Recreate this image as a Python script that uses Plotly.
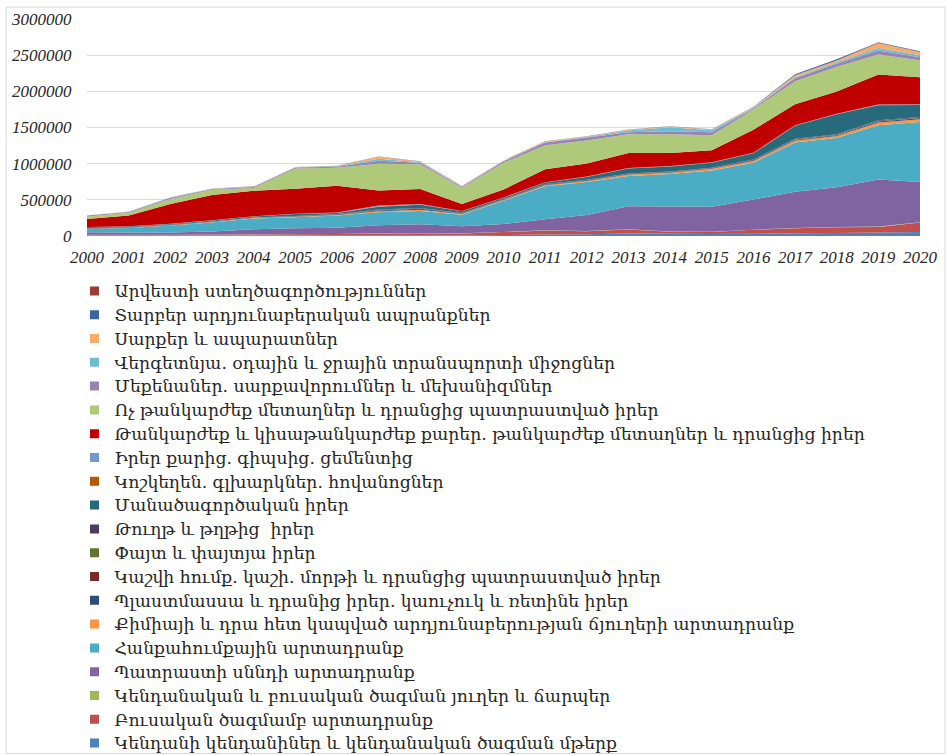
import plotly.graph_objects as go

years = list(range(2000, 2021))

# series names, bottom of the stack first
names = [
    "Կենդանի կենդանիներ և կենդանական ծագման մթերք",
    "Բուսական ծագմամբ արտադրանք",
    "Կենդանական և բուսական ծագման յուղեր և ճարպեր",
    "Պատրաստի սննդի արտադրանք",
    "Հանքահումքային արտադրանք",
    "Քիմիայի և դրա հետ կապված արդյունաբերության ճյուղերի արտադրանք",
    "Պլաստմասսա և դրանից իրեր. կաուչուկ և ռետինե իրեր",
    "Կաշվի հումք. կաշի. մորթի և դրանցից պատրաստված իրեր",
    "Փայտ և փայտյա իրեր",
    "Թուղթ և թղթից  իրեր",
    "Մանածագործական իրեր",
    "Կոշկեղեն. գլխարկներ. հովանոցներ",
    "Իրեր քարից. գիպսից. ցեմենտից",
    "Թանկարժեք և կիսաթանկարժեք քարեր. թանկարժեք մետաղներ և դրանցից իրեր",
    "Ոչ թանկարժեք մետաղներ և դրանցից պատրաստված իրեր",
    "Մեքենաներ. սարքավորումներ և մեխանիզմներ",
    "Վերգետնյա. օդային և ջրային տրանսպորտի միջոցներ",
    "Սարքեր և ապարատներ",
    "Տարբեր արդյունաբերական ապրանքներ",
    "Արվեստի ստեղծագործություններ",
]

colors = [
    "#4F81BD", "#C0504D", "#9BBB59", "#8064A2", "#4BACC6", "#F79646",
    "#2C4D75", "#772C2A", "#5F7530", "#4D3B62", "#276A7C", "#B65708",
    "#729ACA", "#C00000", "#AFC97A", "#9983B5", "#6FBDD1", "#F9AB6B",
    "#3A65A0", "#9E3B39",
]

live_animals = [6000, 6000, 6000, 6000, 7000, 8000, 9000, 10000, 10000, 8000, 14000,
                22000, 25000, 35000, 30000, 28000, 30000, 38000, 40000, 50000, 55000]
vegetable = [10000, 10000, 12000, 14000, 15000, 16000, 18000, 25000, 28000, 28000, 40000,
             55000, 42000, 55000, 30000, 28000, 55000, 70000, 80000, 75000, 130000]
fats = [1000, 1000, 1000, 1000, 1000, 1000, 2000, 2000, 2000, 2000, 2000,
        3000, 3000, 3000, 3000, 3000, 3000, 4000, 4000, 5000, 5000]
food = [35000, 30000, 30000, 42000, 69000, 83000, 85000, 110000, 124000, 97000, 110000,
        152000, 220000, 318000, 345000, 345000, 415000, 500000, 550000, 650000, 555000]
mineral = [50000, 65000, 95000, 125000, 150000, 152000, 170000, 180000, 180000, 160000, 320000,
           456000, 456000, 420000, 450000, 500000, 510000, 680000, 680000, 750000, 830000]
chemicals = [3000, 3000, 4000, 5000, 6000, 7000, 8000, 15000, 20000, 10000, 12000,
             15000, 15000, 18000, 18000, 25000, 25000, 28000, 28000, 40000, 40000]
plastics = [2000, 2000, 2000, 3000, 3000, 4000, 5000, 12000, 12000, 5000, 5000,
            6000, 6000, 7000, 7000, 7000, 8000, 9000, 10000, 12000, 12000]
leather = [1000, 1000, 1000, 1000, 2000, 2000, 2000, 3000, 3000, 2000, 2000,
           3000, 3000, 3000, 3000, 3000, 4000, 5000, 5000, 6000, 6000]
wood = [1000, 1000, 1000, 1000, 1000, 1000, 1000, 2000, 2000, 1000, 1000,
        1000, 1000, 1000, 1000, 1000, 2000, 2000, 2000, 3000, 3000]
paper = [2000, 2000, 2000, 3000, 3000, 4000, 4000, 6000, 6000, 4000, 4000,
         5000, 5000, 5000, 5000, 5000, 6000, 7000, 7000, 8000, 8000]
textiles = [12000, 12000, 12000, 14000, 14000, 25000, 15000, 40000, 45000, 25000, 18000,
            20000, 40000, 69000, 69000, 69000, 85000, 180000, 276000, 207000, 166000]
footwear = [1000, 1000, 1000, 1000, 1000, 1000, 1000, 2000, 2000, 1000, 1000,
            2000, 2000, 2000, 2000, 2000, 3000, 4000, 4000, 5000, 5000]
stone = [1000, 1000, 1000, 2000, 2000, 3000, 4000, 15000, 10000, 3000, 3000,
         3000, 3000, 4000, 4000, 4000, 4000, 5000, 5000, 6000, 6000]
precious = [110000, 150000, 275000, 350000, 350000, 345000, 370000, 207000, 207000, 97000, 110000,
            180000, 180000, 207000, 180000, 166000, 320000, 290000, 305000, 415000, 373000]
base_metals = [35000, 35000, 70000, 70000, 41000, 280000, 250000, 370000, 340000, 220000, 370000,
               330000, 320000, 260000, 260000, 207000, 280000, 318000, 345000, 276000, 235000]
machinery = [12000, 12000, 12000, 12000, 14000, 14000, 15000, 40000, 20000, 14000, 20000,
             41000, 41000, 28000, 41000, 41000, 14000, 41000, 41000, 55000, 41000]
transport = [3000, 3000, 3000, 3000, 3000, 4000, 5000, 30000, 10000, 5000, 5000,
             6000, 6000, 25000, 55000, 28000, 10000, 15000, 20000, 35000, 30000]
instruments = [2000, 2000, 2000, 3000, 3000, 4000, 5000, 25000, 8000, 6000, 6000,
               6000, 8000, 10000, 10000, 12000, 8000, 25000, 25000, 70000, 45000]
misc_goods = [1000, 1000, 1000, 1000, 1000, 1000, 2000, 3000, 3000, 2000, 2000,
              2000, 2000, 3000, 3000, 3000, 4000, 15000, 15000, 8000, 8000]
art = [500, 500, 500, 500, 500, 500, 500, 1000, 1000, 500, 500,
       500, 500, 500, 500, 500, 1000, 1000, 1000, 1000, 1000]

series = [live_animals, vegetable, fats, food, mineral, chemicals, plastics, leather,
          wood, paper, textiles, footwear, stone, precious, base_metals, machinery,
          transport, instruments, misc_goods, art]

fig = go.Figure()

for name, vals, col in zip(names, series, colors):
    fig.add_trace(go.Scatter(
        x=years, y=vals, name=name, mode="none",
        stackgroup="one", fillcolor=col, showlegend=False,
    ))

# legend entries, listed top of the stack first (Excel style)
# text is a bit larger than the legend font so row spacing stays tight
for name, col in reversed(list(zip(names, colors))):
    fig.add_trace(go.Scatter(
        x=[None], y=[None], mode="markers",
        name='<span style="font-size:17.2px">' + name + "</span>",
        marker=dict(symbol="square", size=9, color=col),
    ))

fig.update_layout(
    width=947, height=755,
    margin=dict(l=87, r=27, t=19, b=519, autoexpand=False),
    plot_bgcolor="white", paper_bgcolor="white",
    legend=dict(
        x=-0.015, y=-0.175, xanchor="left", yanchor="top",
        traceorder="normal", maxheight=1,
        font=dict(family="DejaVu Serif", size=16, color="#262626"),
        bgcolor="rgba(0,0,0,0)",
    ),
    shapes=[dict(type="rect", xref="paper", yref="paper",
                 x0=-0.097, x1=1.030, y0=-2.385, y1=1.055,
                 line=dict(color="#d9d9d9", width=1))],
)

fig.update_xaxes(
    range=[2000, 2020], tickmode="array", tickvals=years,
    showgrid=False, zeroline=False, showline=False, automargin=False,
    ticks="outside", ticklen=6, tickcolor="rgba(0,0,0,0)",
    tickfont=dict(family="Liberation Serif", size=17, color="#262626", style="italic"),
)
fig.update_yaxes(
    range=[0, 3000000], dtick=500000, tickformat="d",
    showgrid=True, gridcolor="#d9d9d9", zeroline=False, showline=False, automargin=False,
    ticks="outside", ticklen=11, tickcolor="rgba(0,0,0,0)",
    tickfont=dict(family="Liberation Serif", size=17, color="#262626", style="italic"),
)

fig.write_html("out.html", config={"displayModeBar": False},
               post_script="document.body.style.margin='0';")
